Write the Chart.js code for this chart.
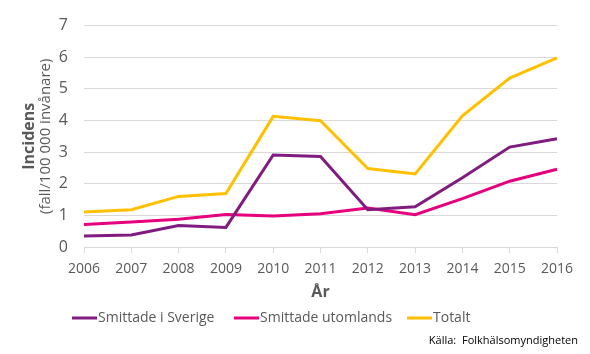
<!DOCTYPE html>
<html>
<head>
<meta charset="utf-8">
<script src="https://cdn.jsdelivr.net/npm/chart.js@4/dist/chart.umd.min.js"></script>
<style>
html,body{margin:0;padding:0;background:#fff;}
#wrap{width:590px;height:354px;position:relative;}
</style>
</head>
<body>
<div id="wrap"><canvas id="c" width="590" height="354"></canvas></div>
<script>
const years = ['2006','2007','2008','2009','2010','2011','2012','2013','2014','2015','2016'];
const smittadeSverige = [0.35,0.38,0.68,0.62,2.91,2.86,1.18,1.27,2.19,3.16,3.42];
const smittadeUtomlands = [0.71,0.79,0.88,1.03,0.98,1.05,1.23,1.02,1.53,2.08,2.46];
const totalt = [1.11,1.18,1.60,1.69,4.13,3.99,2.48,2.31,4.15,5.34,5.98];
const seriesNames = ['Smittade i Sverige','Smittade utomlands','Totalt'];
const seriesColors = ['#801C80','#E6007E','#FFC000'];
const yTitle1 = 'Incidens';
const yTitle2 = '(fall/100 000 invånare)';
const xTitle = 'År';
const sourceText = 'Källa:  Folkhälsomyndigheten';

const FONT = "'Open Sans', 'DejaVu Sans', sans-serif";
const GREY = '#595959';

const extras = {
  id: 'extras',
  afterDraw(chart) {
    const ctx = chart.ctx;
    const area = chart.chartArea;
    ctx.save();
    const cy = (area.top + area.bottom) / 2;
    ctx.save();
    ctx.translate(29, cy);
    ctx.rotate(-Math.PI / 2);
    ctx.textAlign = 'center';
    ctx.textBaseline = 'middle';
    ctx.fillStyle = GREY;
    ctx.font = "bold 16px " + FONT;
    ctx.fillText(yTitle1, 0, 0);
    ctx.font = "15px " + FONT;
    ctx.fillText(yTitle2, 0, 17);
    ctx.restore();
    ctx.fillStyle = GREY;
    ctx.textAlign = 'center';
    ctx.textBaseline = 'middle';
    ctx.font = "bold 16px " + FONT;
    ctx.fillText(xTitle, (area.left + area.right) / 2, 292);
    ctx.font = "14px " + FONT;
    ctx.textAlign = 'left';
    const starts = [72, 234, 407];
    chart.data.datasets.forEach((ds, i) => {
      const x0 = starts[i];
      ctx.strokeStyle = ds.borderColor;
      ctx.lineWidth = 3;
      ctx.beginPath();
      ctx.moveTo(x0, 318);
      ctx.lineTo(x0 + 25, 318);
      ctx.stroke();
      ctx.fillStyle = GREY;
      ctx.fillText(ds.label, x0 + 26, 318);
    });
    ctx.font = "11px " + FONT;
    ctx.fillStyle = '#000';
    ctx.textAlign = 'right';
    ctx.fillText(sourceText, 578, 341);
    ctx.restore();
  }
};

new Chart(document.getElementById('c'), {
  type: 'line',
  data: {
    labels: years,
    datasets: [
      {label: seriesNames[0], data: smittadeSverige, borderColor: seriesColors[0], backgroundColor: seriesColors[0]},
      {label: seriesNames[1], data: smittadeUtomlands, borderColor: seriesColors[1], backgroundColor: seriesColors[1]},
      {label: seriesNames[2], data: totalt, borderColor: seriesColors[2], backgroundColor: seriesColors[2]}
    ].map(d => Object.assign(d, {borderWidth: 3, pointRadius: 0, tension: 0, fill: false}))
  },
  options: {
    responsive: false,
    animation: false,
    layout: {padding: {left: 0, right: 33, top: 15, bottom: 0}},
    plugins: {legend: {display: false}, tooltip: {enabled: false}, title: {display: false}},
    scales: {
      x: {
        offset: false,
        grid: {drawOnChartArea: false, drawTicks: true, tickLength: 6, color: '#d9d9d9'},
        border: {display: true, color: '#d9d9d9', width: 1},
        ticks: {color: GREY, font: {family: FONT, size: 14}, padding: 8, maxRotation: 0, autoSkip: false},
        afterFit(s) { s.height = 107; }
      },
      y: {
        min: 0, max: 7,
        grid: {color: '#d9d9d9', drawTicks: false, lineWidth: 1},
        border: {display: false},
        ticks: {stepSize: 1, color: GREY, font: {family: FONT, size: 16}, padding: 16},
        afterFit(s) { s.width = 84; }
      }
    }
  },
  plugins: [extras]
});
</script>
</body>
</html>
